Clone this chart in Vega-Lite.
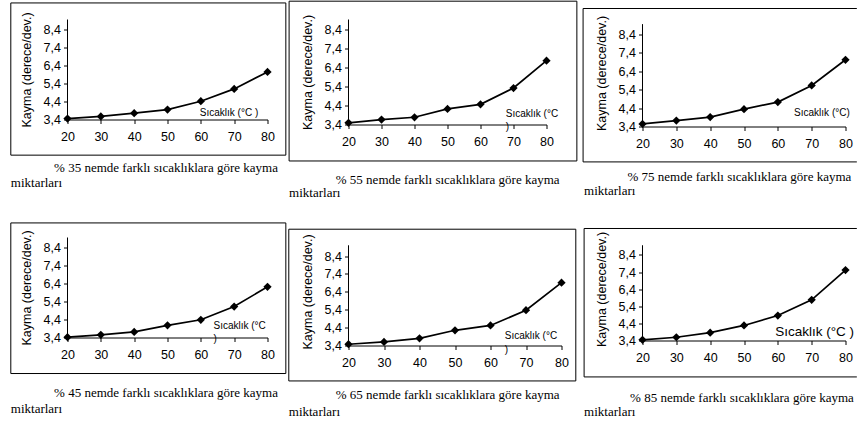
{
  "$schema": "https://vega.github.io/schema/vega-lite/v6.json",
  "background": "white",
  "padding": {"left": 9.5, "top": 0.5, "right": 0, "bottom": 0},
  "autosize": {"type": "pad"},
  "config": {
    "view": {"stroke": null},
    "font": "Liberation Sans",
    "axis": {"labelFont": "Liberation Sans", "labelFontSize": 12.5, "labelColor": "#000", "domainColor": "#000", "domainWidth": 1, "tickColor": "#000", "tickWidth": 1, "tickSize": 4, "grid": false, "titleFont": "Liberation Sans", "titleFontSize": 12.5, "titleFontWeight": "normal", "titleColor": "#000", "labelFlush": false, "labelOverlap": false, "tickCount": 12},
    "axisX": {"labelPadding": 7},
    "axisY": {"labelPadding": 3, "titlePadding": 10, "domain": false}
  },
  "datasets": {
    "d35": [{"t":20,"v":3.45},{"t":30,"v":3.57},{"t":40,"v":3.75},{"t":50,"v":3.95},{"t":60,"v":4.41},{"t":70,"v":5.09},{"t":80,"v":6.03}],
    "d55": [{"t":20,"v":3.49},{"t":30,"v":3.66},{"t":40,"v":3.78},{"t":50,"v":4.22},{"t":60,"v":4.46},{"t":70,"v":5.32},{"t":80,"v":6.76}],
    "d75": [{"t":20,"v":3.54},{"t":30,"v":3.72},{"t":40,"v":3.91},{"t":50,"v":4.34},{"t":60,"v":4.72},{"t":70,"v":5.62},{"t":80,"v":7.01}],
    "d45": [{"t":20,"v":3.42},{"t":30,"v":3.55},{"t":40,"v":3.71},{"t":50,"v":4.07},{"t":60,"v":4.38},{"t":70,"v":5.11},{"t":80,"v":6.2}],
    "d65": [{"t":20,"v":3.47},{"t":30,"v":3.6},{"t":40,"v":3.8},{"t":50,"v":4.25},{"t":60,"v":4.52},{"t":70,"v":5.37},{"t":80,"v":6.91}],
    "d85": [{"t":20,"v":3.44},{"t":30,"v":3.59},{"t":40,"v":3.86},{"t":50,"v":4.28},{"t":60,"v":4.86},{"t":70,"v":5.78},{"t":80,"v":7.52}]
  },
  "columns": 3,
  "align": "each",
  "bounds": "flush",
  "spacing": {"row": 111, "column": 81},
  "concat": [
    {
      "width": 200, "height": 100,
      "layer": [
        {"data": {"name": "d35"}, "mark": {"type": "line", "color": "#000", "strokeWidth": 1.7, "point": {"shape": "diamond", "size": 68, "filled": true, "color": "#000"}},
         "encoding": {"x": {"field": "t", "type": "quantitative", "scale": {"domain": [20, 80], "nice": false, "zero": false}, "axis": {"values": [20,30,40,50,60,70,80], "tickCount": 12, "title": null, "labelOverlap": false, "labelFlush": false}},
                      "y": {"field": "v", "type": "quantitative", "scale": {"domain": [3.4, 8.925], "nice": false, "zero": false}, "axis": {"values": [3.4,4.4,5.4,6.4,7.4,8.4], "tickCount": 12, "labelOverlap": false, "labelExpr": "replace(format(datum.value,'.1f'),'.',',')", "title": "Kayma (derece/dev.)"}}}},
        {"data": {"values": [{}]}, "mark": {"type": "rect", "filled": false, "stroke": "#000", "strokeWidth": 1},
         "encoding": {"x": {"datum": 2.99, "type": "quantitative", "scale": {"domain": [20, 80], "nice": false, "zero": false}}, "x2": {"datum": 85.5},
                      "y": {"datum": 9.84, "type": "quantitative", "scale": {"domain": [3.4, 8.925], "nice": false, "zero": false}}, "y2": {"datum": 1.43}}},
        {"data": {"values": [{}]}, "mark": {"type": "rule", "stroke": "#000", "strokeWidth": 1},
         "encoding": {"x": {"datum": 20, "type": "quantitative", "scale": {"domain": [20, 80], "nice": false, "zero": false}},
                      "y": {"datum": 3.4, "type": "quantitative", "scale": {"domain": [3.4, 8.925], "nice": false, "zero": false}}, "y2": {"datum": 8.925}}},
        {"data": {"values": [{}]}, "mark": {"type": "text", "text": "Sıcaklık (°C )", "align": "left", "baseline": "alphabetic", "font": "Liberation Sans", "fontSize": 10, "color": "#000"},
         "encoding": {"x": {"datum": 59.69, "type": "quantitative", "scale": {"domain": [20, 80], "nice": false, "zero": false}},
                      "y": {"datum": 3.62, "type": "quantitative", "scale": {"domain": [3.4, 8.925], "nice": false, "zero": false}}}},
        {"data": {"values": [{}]}, "mark": {"type": "text", "text": "% 35 nemde farklı sıcaklıklara göre kayma", "align": "left", "baseline": "alphabetic", "font": "Liberation Serif", "fontSize": 13, "color": "#000"},
         "encoding": {"x": {"datum": 15.98, "type": "quantitative", "scale": {"domain": [20, 80], "nice": false, "zero": false}},
                      "y": {"datum": 0.49, "type": "quantitative", "scale": {"domain": [3.4, 8.925], "nice": false, "zero": false}}}},
        {"data": {"values": [{}]}, "mark": {"type": "text", "text": "miktarları", "align": "left", "baseline": "alphabetic", "font": "Liberation Serif", "fontSize": 13, "color": "#000"},
         "encoding": {"x": {"datum": 2.99, "type": "quantitative", "scale": {"domain": [20, 80], "nice": false, "zero": false}},
                      "y": {"datum": -0.34, "type": "quantitative", "scale": {"domain": [3.4, 8.925], "nice": false, "zero": false}}}}
      ]
    },
    {
      "width": 198, "height": 105,
      "layer": [
        {"data": {"name": "d55"}, "mark": {"type": "line", "color": "#000", "strokeWidth": 1.7, "point": {"shape": "diamond", "size": 68, "filled": true, "color": "#000"}},
         "encoding": {"x": {"field": "t", "type": "quantitative", "scale": {"domain": [20, 80], "nice": false, "zero": false}, "axis": {"values": [20,30,40,50,60,70,80], "tickCount": 12, "title": null, "labelOverlap": false, "labelFlush": false}},
                      "y": {"field": "v", "type": "quantitative", "scale": {"domain": [3.4, 8.926], "nice": false, "zero": false}, "axis": {"values": [3.4,4.4,5.4,6.4,7.4,8.4], "tickCount": 12, "labelOverlap": false, "labelExpr": "replace(format(datum.value,'.1f'),'.',',')", "title": "Kayma (derece/dev.)"}}}},
        {"data": {"values": [{}]}, "mark": {"type": "rect", "filled": false, "stroke": "#000", "strokeWidth": 1},
         "encoding": {"x": {"datum": 2.0, "type": "quantitative", "scale": {"domain": [20, 80], "nice": false, "zero": false}}, "x2": {"datum": 89.2},
                      "y": {"datum": 9.89, "type": "quantitative", "scale": {"domain": [3.4, 8.926], "nice": false, "zero": false}}, "y2": {"datum": 1.48}}},
        {"data": {"values": [{}]}, "mark": {"type": "rule", "stroke": "#000", "strokeWidth": 1},
         "encoding": {"x": {"datum": 20, "type": "quantitative", "scale": {"domain": [20, 80], "nice": false, "zero": false}},
                      "y": {"datum": 3.4, "type": "quantitative", "scale": {"domain": [3.4, 8.926], "nice": false, "zero": false}}, "y2": {"datum": 8.926}}},
        {"data": {"values": [{}]}, "mark": {"type": "text", "text": ["Sıcaklık (°C", "\u00a0)"], "lineHeight": 13, "align": "left", "baseline": "alphabetic", "font": "Liberation Sans", "fontSize": 10, "color": "#000"},
         "encoding": {"x": {"datum": 67.67, "type": "quantitative", "scale": {"domain": [20, 80], "nice": false, "zero": false}},
                      "y": {"datum": 3.784, "type": "quantitative", "scale": {"domain": [3.4, 8.926], "nice": false, "zero": false}}}},
        {"data": {"values": [{}]}, "mark": {"type": "text", "text": "% 55 nemde farklı sıcaklıklara göre kayma", "align": "left", "baseline": "alphabetic", "font": "Liberation Serif", "fontSize": 13, "color": "#000"},
         "encoding": {"x": {"datum": 16.15, "type": "quantitative", "scale": {"domain": [20, 80], "nice": false, "zero": false}},
                      "y": {"datum": 0.258, "type": "quantitative", "scale": {"domain": [3.4, 8.926], "nice": false, "zero": false}}}},
        {"data": {"values": [{}]}, "mark": {"type": "text", "text": "miktarları", "align": "left", "baseline": "alphabetic", "font": "Liberation Serif", "fontSize": 13, "color": "#000"},
         "encoding": {"x": {"datum": 2.0, "type": "quantitative", "scale": {"domain": [20, 80], "nice": false, "zero": false}},
                      "y": {"datum": -0.426, "type": "quantitative", "scale": {"domain": [3.4, 8.926], "nice": false, "zero": false}}}}
      ]
    },
    {
      "width": 203, "height": 107,
      "layer": [
        {"data": {"name": "d75"}, "mark": {"type": "line", "color": "#000", "strokeWidth": 1.7, "point": {"shape": "diamond", "size": 68, "filled": true, "color": "#000"}},
         "encoding": {"x": {"field": "t", "type": "quantitative", "scale": {"domain": [20, 80], "nice": false, "zero": false}, "axis": {"values": [20,30,40,50,60,70,80], "tickCount": 12, "title": null, "labelOverlap": false, "labelFlush": false}},
                      "y": {"field": "v", "type": "quantitative", "scale": {"domain": [3.4, 9.19], "nice": false, "zero": false}, "axis": {"values": [3.4,4.4,5.4,6.4,7.4,8.4], "tickCount": 12, "labelOverlap": false, "labelExpr": "replace(format(datum.value,'.1f'),'.',',')", "title": "Kayma (derece/dev.)"}}}},
        {"data": {"values": [{}]}, "mark": {"type": "rule", "stroke": "#000", "strokeWidth": 1},
         "encoding": {"x": {"datum": 2.44, "type": "quantitative", "scale": {"domain": [20, 80], "nice": false, "zero": false}},
                      "y": {"datum": 9.785, "type": "quantitative", "scale": {"domain": [3.4, 9.19], "nice": false, "zero": false}}, "y2": {"datum": 1.484}}},
        {"data": {"values": [{}]}, "mark": {"type": "rule", "stroke": "#000", "strokeWidth": 1},
         "encoding": {"x": {"datum": 2.44, "type": "quantitative", "scale": {"domain": [20, 80], "nice": false, "zero": false}}, "x2": {"datum": 83.35},
                      "y": {"datum": 9.785, "type": "quantitative", "scale": {"domain": [3.4, 9.19], "nice": false, "zero": false}}}},
        {"data": {"values": [{}]}, "mark": {"type": "rule", "stroke": "#000", "strokeWidth": 1},
         "encoding": {"x": {"datum": 2.44, "type": "quantitative", "scale": {"domain": [20, 80], "nice": false, "zero": false}}, "x2": {"datum": 83.35},
                      "y": {"datum": 1.484, "type": "quantitative", "scale": {"domain": [3.4, 9.19], "nice": false, "zero": false}}}},
        {"data": {"values": [{}]}, "mark": {"type": "rule", "stroke": "#000", "strokeWidth": 1},
         "encoding": {"x": {"datum": 20, "type": "quantitative", "scale": {"domain": [20, 80], "nice": false, "zero": false}},
                      "y": {"datum": 3.4, "type": "quantitative", "scale": {"domain": [3.4, 9.19], "nice": false, "zero": false}}, "y2": {"datum": 8.94}}},
        {"data": {"values": [{}]}, "mark": {"type": "text", "text": "Sıcaklık (°C)", "align": "left", "baseline": "alphabetic", "font": "Liberation Sans", "fontSize": 10, "color": "#000"},
         "encoding": {"x": {"datum": 64.81, "type": "quantitative", "scale": {"domain": [20, 80], "nice": false, "zero": false}},
                      "y": {"datum": 3.995, "type": "quantitative", "scale": {"domain": [3.4, 9.19], "nice": false, "zero": false}}}},
        {"data": {"values": [{}]}, "mark": {"type": "text", "text": "% 75 nemde farklı sıcaklıklara göre kayma", "align": "left", "baseline": "alphabetic", "font": "Liberation Serif", "fontSize": 13, "color": "#000"},
         "encoding": {"x": {"datum": 15.57, "type": "quantitative", "scale": {"domain": [20, 80], "nice": false, "zero": false}},
                      "y": {"datum": 0.44, "type": "quantitative", "scale": {"domain": [3.4, 9.19], "nice": false, "zero": false}}}},
        {"data": {"values": [{}]}, "mark": {"type": "text", "text": "miktarları", "align": "left", "baseline": "alphabetic", "font": "Liberation Serif", "fontSize": 13, "color": "#000"},
         "encoding": {"x": {"datum": 2.74, "type": "quantitative", "scale": {"domain": [20, 80], "nice": false, "zero": false}},
                      "y": {"datum": -0.32, "type": "quantitative", "scale": {"domain": [3.4, 9.19], "nice": false, "zero": false}}}}
      ]
    },
    {
      "width": 200, "height": 100,
      "layer": [
        {"data": {"name": "d45"}, "mark": {"type": "line", "color": "#000", "strokeWidth": 1.7, "point": {"shape": "diamond", "size": 68, "filled": true, "color": "#000"}},
         "encoding": {"x": {"field": "t", "type": "quantitative", "scale": {"domain": [20, 80], "nice": false, "zero": false}, "axis": {"values": [20,30,40,50,60,70,80], "tickCount": 12, "title": null, "labelOverlap": false, "labelFlush": false}},
                      "y": {"field": "v", "type": "quantitative", "scale": {"domain": [3.4, 8.925], "nice": false, "zero": false}, "axis": {"values": [3.4,4.4,5.4,6.4,7.4,8.4], "tickCount": 12, "labelOverlap": false, "labelExpr": "replace(format(datum.value,'.1f'),'.',',')", "title": "Kayma (derece/dev.)"}}}},
        {"data": {"values": [{}]}, "mark": {"type": "rect", "filled": false, "stroke": "#000", "strokeWidth": 1},
         "encoding": {"x": {"datum": 2.99, "type": "quantitative", "scale": {"domain": [20, 80], "nice": false, "zero": false}}, "x2": {"datum": 85.5},
                      "y": {"datum": 9.73, "type": "quantitative", "scale": {"domain": [3.4, 8.925], "nice": false, "zero": false}}, "y2": {"datum": 1.41}}},
        {"data": {"values": [{}]}, "mark": {"type": "rule", "stroke": "#000", "strokeWidth": 1},
         "encoding": {"x": {"datum": 20, "type": "quantitative", "scale": {"domain": [20, 80], "nice": false, "zero": false}},
                      "y": {"datum": 3.4, "type": "quantitative", "scale": {"domain": [3.4, 8.925], "nice": false, "zero": false}}, "y2": {"datum": 8.925}}},
        {"data": {"values": [{}]}, "mark": {"type": "text", "text": ["Sıcaklık (°C", "\u00a0)"], "lineHeight": 13, "align": "left", "baseline": "alphabetic", "font": "Liberation Sans", "fontSize": 10, "color": "#000"},
         "encoding": {"x": {"datum": 63.8, "type": "quantitative", "scale": {"domain": [20, 80], "nice": false, "zero": false}},
                      "y": {"datum": 3.88, "type": "quantitative", "scale": {"domain": [3.4, 8.925], "nice": false, "zero": false}}}},
        {"data": {"values": [{}]}, "mark": {"type": "text", "text": "% 45 nemde farklı sıcaklıklara göre kayma", "align": "left", "baseline": "alphabetic", "font": "Liberation Serif", "fontSize": 13, "color": "#000"},
         "encoding": {"x": {"datum": 15.98, "type": "quantitative", "scale": {"domain": [20, 80], "nice": false, "zero": false}},
                      "y": {"datum": 0.10, "type": "quantitative", "scale": {"domain": [3.4, 8.925], "nice": false, "zero": false}}}},
        {"data": {"values": [{}]}, "mark": {"type": "text", "text": "miktarları", "align": "left", "baseline": "alphabetic", "font": "Liberation Serif", "fontSize": 13, "color": "#000"},
         "encoding": {"x": {"datum": 2.99, "type": "quantitative", "scale": {"domain": [20, 80], "nice": false, "zero": false}},
                      "y": {"datum": -0.78, "type": "quantitative", "scale": {"domain": [3.4, 8.925], "nice": false, "zero": false}}}}
      ]
    },
    {
      "width": 213, "height": 108,
      "layer": [
        {"data": {"name": "d65"}, "mark": {"type": "line", "color": "#000", "strokeWidth": 1.7, "point": {"shape": "diamond", "size": 68, "filled": true, "color": "#000"}},
         "encoding": {"x": {"field": "t", "type": "quantitative", "scale": {"domain": [20, 80], "nice": false, "zero": false}, "axis": {"values": [20,30,40,50,60,70,80], "tickCount": 12, "title": null, "labelOverlap": false, "labelFlush": false}},
                      "y": {"field": "v", "type": "quantitative", "scale": {"domain": [3.4, 9.434], "nice": false, "zero": false}, "axis": {"values": [3.4,4.4,5.4,6.4,7.4,8.4], "tickCount": 12, "labelOverlap": false, "labelExpr": "replace(format(datum.value,'.1f'),'.',',')", "title": "Kayma (derece/dev.)"}}}},
        {"data": {"values": [{}]}, "mark": {"type": "rect", "filled": false, "stroke": "#000", "strokeWidth": 1},
         "encoding": {"x": {"datum": 3.18, "type": "quantitative", "scale": {"domain": [20, 80], "nice": false, "zero": false}}, "x2": {"datum": 84.03},
                      "y": {"datum": 9.897, "type": "quantitative", "scale": {"domain": [3.4, 9.434], "nice": false, "zero": false}}, "y2": {"datum": 1.42}}},
        {"data": {"values": [{}]}, "mark": {"type": "rule", "stroke": "#000", "strokeWidth": 1},
         "encoding": {"x": {"datum": 20, "type": "quantitative", "scale": {"domain": [20, 80], "nice": false, "zero": false}},
                      "y": {"datum": 3.4, "type": "quantitative", "scale": {"domain": [3.4, 9.434], "nice": false, "zero": false}}, "y2": {"datum": 9.0}}},
        {"data": {"values": [{}]}, "mark": {"type": "text", "text": ["Sıcaklık (°C", "\u00a0)"], "lineHeight": 14, "align": "left", "baseline": "alphabetic", "font": "Liberation Sans", "fontSize": 10, "color": "#000"},
         "encoding": {"x": {"datum": 64.03, "type": "quantitative", "scale": {"domain": [20, 80], "nice": false, "zero": false}},
                      "y": {"datum": 3.774, "type": "quantitative", "scale": {"domain": [3.4, 9.434], "nice": false, "zero": false}}}},
        {"data": {"values": [{}]}, "mark": {"type": "text", "text": "% 65 nemde farklı sıcaklıklara göre kayma", "align": "left", "baseline": "alphabetic", "font": "Liberation Serif", "fontSize": 13, "color": "#000"},
         "encoding": {"x": {"datum": 16.42, "type": "quantitative", "scale": {"domain": [20, 80], "nice": false, "zero": false}},
                      "y": {"datum": 0.4, "type": "quantitative", "scale": {"domain": [3.4, 9.434], "nice": false, "zero": false}}}},
        {"data": {"values": [{}]}, "mark": {"type": "text", "text": "miktarları", "align": "left", "baseline": "alphabetic", "font": "Liberation Serif", "fontSize": 13, "color": "#000"},
         "encoding": {"x": {"datum": 3.18, "type": "quantitative", "scale": {"domain": [20, 80], "nice": false, "zero": false}},
                      "y": {"datum": -0.55, "type": "quantitative", "scale": {"domain": [3.4, 9.434], "nice": false, "zero": false}}}}
      ]
    },
    {
      "width": 203, "height": 103,
      "layer": [
        {"data": {"name": "d85"}, "mark": {"type": "line", "color": "#000", "strokeWidth": 1.7, "point": {"shape": "diamond", "size": 68, "filled": true, "color": "#000"}},
         "encoding": {"x": {"field": "t", "type": "quantitative", "scale": {"domain": [20, 80], "nice": false, "zero": false}, "axis": {"values": [20,30,40,50,60,70,80], "tickCount": 12, "title": null, "labelOverlap": false, "labelFlush": false}},
                      "y": {"field": "v", "type": "quantitative", "scale": {"domain": [3.4, 9.423], "nice": false, "zero": false}, "axis": {"values": [3.4,4.4,5.4,6.4,7.4,8.4], "tickCount": 12, "labelOverlap": false, "labelExpr": "replace(format(datum.value,'.1f'),'.',',')", "title": "Kayma (derece/dev.)"}}}},
        {"data": {"values": [{}]}, "mark": {"type": "rule", "stroke": "#000", "strokeWidth": 1},
         "encoding": {"x": {"datum": 2.74, "type": "quantitative", "scale": {"domain": [20, 80], "nice": false, "zero": false}},
                      "y": {"datum": 9.95, "type": "quantitative", "scale": {"domain": [3.4, 9.423], "nice": false, "zero": false}}, "y2": {"datum": 1.27}}},
        {"data": {"values": [{}]}, "mark": {"type": "rule", "stroke": "#000", "strokeWidth": 1},
         "encoding": {"x": {"datum": 2.74, "type": "quantitative", "scale": {"domain": [20, 80], "nice": false, "zero": false}}, "x2": {"datum": 83.35},
                      "y": {"datum": 9.95, "type": "quantitative", "scale": {"domain": [3.4, 9.423], "nice": false, "zero": false}}}},
        {"data": {"values": [{}]}, "mark": {"type": "rule", "stroke": "#000", "strokeWidth": 1},
         "encoding": {"x": {"datum": 2.74, "type": "quantitative", "scale": {"domain": [20, 80], "nice": false, "zero": false}}, "x2": {"datum": 83.35},
                      "y": {"datum": 1.27, "type": "quantitative", "scale": {"domain": [3.4, 9.423], "nice": false, "zero": false}}}},
        {"data": {"values": [{}]}, "mark": {"type": "rule", "stroke": "#000", "strokeWidth": 1},
         "encoding": {"x": {"datum": 20, "type": "quantitative", "scale": {"domain": [20, 80], "nice": false, "zero": false}},
                      "y": {"datum": 3.4, "type": "quantitative", "scale": {"domain": [3.4, 9.423], "nice": false, "zero": false}}, "y2": {"datum": 8.97}}},
        {"data": {"values": [{}]}, "mark": {"type": "text", "text": "Sıcaklık (°C )", "align": "left", "baseline": "alphabetic", "font": "Liberation Sans", "fontSize": 13.5, "color": "#000"},
         "encoding": {"x": {"datum": 59.2, "type": "quantitative", "scale": {"domain": [20, 80], "nice": false, "zero": false}},
                      "y": {"datum": 3.68, "type": "quantitative", "scale": {"domain": [3.4, 9.423], "nice": false, "zero": false}}}},
        {"data": {"values": [{}]}, "mark": {"type": "text", "text": "% 85 nemde farklı sıcaklıklara göre kayma", "align": "left", "baseline": "alphabetic", "font": "Liberation Serif", "fontSize": 13, "color": "#000"},
         "encoding": {"x": {"datum": 16.33, "type": "quantitative", "scale": {"domain": [20, 80], "nice": false, "zero": false}},
                      "y": {"datum": -0.21, "type": "quantitative", "scale": {"domain": [3.4, 9.423], "nice": false, "zero": false}}}},
        {"data": {"values": [{}]}, "mark": {"type": "text", "text": "miktarları", "align": "left", "baseline": "alphabetic", "font": "Liberation Serif", "fontSize": 13, "color": "#000"},
         "encoding": {"x": {"datum": 2.74, "type": "quantitative", "scale": {"domain": [20, 80], "nice": false, "zero": false}},
                      "y": {"datum": -1.03, "type": "quantitative", "scale": {"domain": [3.4, 9.423], "nice": false, "zero": false}}}}
      ]
    }
  ]
}
